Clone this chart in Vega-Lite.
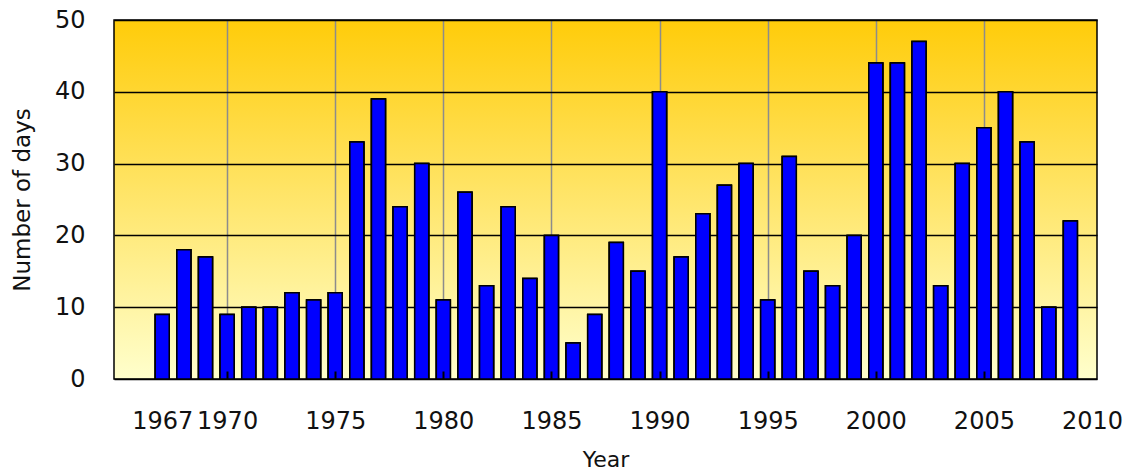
{
  "$schema": "https://vega.github.io/schema/vega-lite/v6.json",
  "width": 983,
  "height": 359,
  "autosize": {"type": "none"},
  "padding": {"left": 114, "top": 20, "right": 40, "bottom": 95},
  "background": "white",
  "config": {
    "view": {
      "stroke": "black",
      "strokeWidth": 1.5,
      "fill": {
        "gradient": "linear",
        "x1": 0, "y1": 0, "x2": 0, "y2": 1,
        "stops": [
          {"offset": 0, "color": "#FFCC0A"},
          {"offset": 1, "color": "#FFFFCC"}
        ]
      }
    },
    "font": "DejaVu Sans"
  },
  "data": {
    "values": [
      {"year": 1967, "days": 9},
      {"year": 1968, "days": 18},
      {"year": 1969, "days": 17},
      {"year": 1970, "days": 9},
      {"year": 1971, "days": 10},
      {"year": 1972, "days": 10},
      {"year": 1973, "days": 12},
      {"year": 1974, "days": 11},
      {"year": 1975, "days": 12},
      {"year": 1976, "days": 33},
      {"year": 1977, "days": 39},
      {"year": 1978, "days": 24},
      {"year": 1979, "days": 30},
      {"year": 1980, "days": 11},
      {"year": 1981, "days": 26},
      {"year": 1982, "days": 13},
      {"year": 1983, "days": 24},
      {"year": 1984, "days": 14},
      {"year": 1985, "days": 20},
      {"year": 1986, "days": 5},
      {"year": 1987, "days": 9},
      {"year": 1988, "days": 19},
      {"year": 1989, "days": 15},
      {"year": 1990, "days": 40},
      {"year": 1991, "days": 17},
      {"year": 1992, "days": 23},
      {"year": 1993, "days": 27},
      {"year": 1994, "days": 30},
      {"year": 1995, "days": 11},
      {"year": 1996, "days": 31},
      {"year": 1997, "days": 15},
      {"year": 1998, "days": 13},
      {"year": 1999, "days": 20},
      {"year": 2000, "days": 44},
      {"year": 2001, "days": 44},
      {"year": 2002, "days": 47},
      {"year": 2003, "days": 13},
      {"year": 2004, "days": 30},
      {"year": 2005, "days": 35},
      {"year": 2006, "days": 40},
      {"year": 2007, "days": 33},
      {"year": 2008, "days": 10},
      {"year": 2009, "days": 22}
    ]
  },
  "resolve": {"axis": {"x": "independent"}},
  "layer": [
    {
      "mark": {"type": "bar", "size": 14, "color": "#0000FF", "stroke": "#000000", "strokeWidth": 1.5},
      "encoding": {
        "x": {
          "field": "year",
          "type": "quantitative",
          "scale": {"domain": [1965, 2010], "nice": false, "zero": false},
          "axis": {
            "orient": "bottom",
            "title": null,
            "values": [1970, 1975, 1980, 1985, 1990, 1995, 2000, 2005],
            "domain": false,
            "grid": true,
            "gridColor": "#8C8C8C",
            "gridWidth": 1.5,
            "ticks": false,
            "labels": false,
            "zindex": 0
          }
        },
        "y": {
          "field": "days",
          "type": "quantitative",
          "scale": {"domain": [0, 50], "nice": false},
          "axis": {
            "title": "Number of days",
            "values": [0, 10, 20, 30, 40, 50],
            "domain": false,
            "ticks": false,
            "tickSize": 0,
            "grid": true,
            "gridColor": "black",
            "gridWidth": 1.5,
            "labelFont": "DejaVu Sans",
            "labelFontSize": 24,
            "labelColor": "#111111",
            "labelPadding": 29,
            "titleFont": "DejaVu Sans",
            "titleFontSize": 23,
            "titleFontWeight": "normal",
            "titleColor": "#111111",
            "titlePadding": 20
          }
        }
      }
    },
    {
      "mark": {"type": "bar", "size": 14, "color": "#0000FF", "stroke": "#000000", "strokeWidth": 1.5},
      "encoding": {
        "x": {
          "field": "year",
          "type": "quantitative",
          "scale": {"domain": [1965, 2010], "nice": false, "zero": false},
          "axis": {
            "orient": "bottom",
            "title": "Year",
            "values": [1967, 1970, 1975, 1980, 1985, 1990, 1995, 2000, 2005, 2010],
            "format": "d",
            "domain": false,
            "grid": false,
            "ticks": false,
            "labelFont": "DejaVu Sans",
            "labelFontSize": 24,
            "labelColor": "#111111",
            "labelPadding": 30,
            "labelFlush": false,
            "labelOverlap": false,
            "titleFont": "DejaVu Sans",
            "titleFontSize": 22,
            "titleFontWeight": "normal",
            "titleColor": "#111111",
            "titlePadding": 16,
            "zindex": 1
          }
        },
        "y": {
          "field": "days",
          "type": "quantitative"
        }
      }
    },
    {
      "mark": {"type": "bar", "size": 14, "color": "#0000FF", "stroke": "#000000", "strokeWidth": 1.5},
      "encoding": {
        "x": {
          "field": "year",
          "type": "quantitative",
          "scale": {"domain": [1965, 2010], "nice": false, "zero": false},
          "axis": {
            "orient": "bottom",
            "offset": -8,
            "title": null,
            "values": [1970, 1975, 1980, 1985, 1990, 1995, 2000, 2005],
            "domain": false,
            "grid": false,
            "labels": false,
            "ticks": true,
            "tickSize": 8,
            "tickColor": "#000000",
            "tickWidth": 2,
            "tickOpacity": 1,
            "tickCap": "butt",
            "zindex": 2
          }
        },
        "y": {
          "field": "days",
          "type": "quantitative"
        }
      }
    }
  ]
}
